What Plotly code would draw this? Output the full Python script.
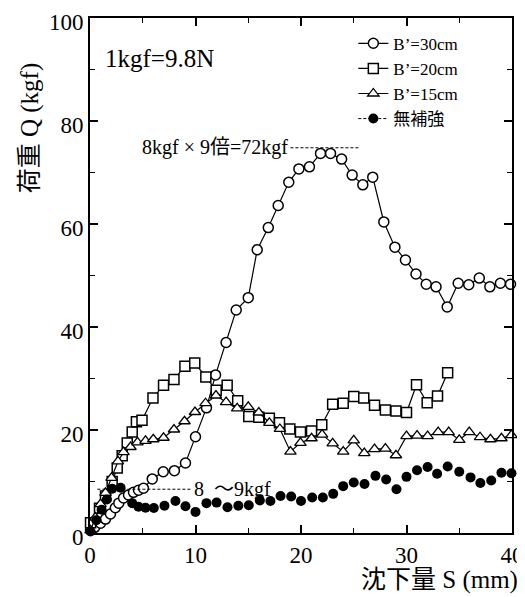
import plotly.graph_objects as go

# ---- data (S in mm, Q in kgf) ----
x30 = [0.05, 0.45, 1.0, 1.47, 1.94, 2.4, 2.73, 3.18, 3.65, 4.12, 4.6, 5.07, 5.9, 6.94, 8.0, 9.05,
       10.0, 11.04, 11.9, 12.9, 13.86, 15.0, 15.85, 16.9, 17.84, 18.84, 19.8, 20.8, 21.85, 22.8,
       23.85, 24.85, 25.86, 26.8, 27.85, 28.9, 29.9, 30.9, 31.87, 32.8, 33.86, 34.9, 35.9, 36.9,
       37.9, 38.9, 39.86]
y30 = [0.6, 1.1, 1.9, 2.7, 3.7, 4.9, 5.8, 6.8, 7.4, 7.9, 8.3, 8.7, 10.5, 11.9, 12.1, 13.6,
       18.7, 24.3, 30.7, 37.0, 43.3, 45.7, 55.0, 59.3, 63.6, 68.1, 70.7, 71.1, 73.7, 73.7,
       72.6, 69.5, 67.6, 69.1, 60.4, 55.5, 53.0, 50.3, 48.3, 47.8, 43.9, 48.5, 48.2, 49.5,
       47.8, 48.5, 48.3]

x20 = [0.05, 0.9, 1.47, 2.1, 2.58, 3.05, 3.53, 4.0, 4.4, 4.93, 5.97, 6.97, 7.96, 9.0, 9.93,
       10.98, 11.96, 13.0, 14.0, 15.05, 16.0, 17.0, 17.96, 18.94, 19.95, 21.0, 21.97, 23.0,
       24.0, 25.0, 25.95, 26.97, 28.0, 29.0, 30.0, 30.95, 31.96, 32.94, 33.9]
y20 = [2.0, 4.8, 7.2, 10.0, 12.6, 15.0, 17.5, 19.6, 21.6, 21.9, 26.2, 28.7, 29.8, 32.4, 33.0,
       30.3, 27.7, 28.7, 25.7, 22.6, 22.5, 22.3, 21.4, 20.2, 19.6, 19.8, 21.0, 25.0,
       25.2, 26.5, 26.2, 24.8, 23.9, 23.7, 23.4, 28.8, 25.3, 26.6, 31.1]

x15 = [0.05, 0.5, 1.0, 1.47, 2.04, 2.65, 3.18, 3.84, 4.5, 5.26, 6.0, 6.97, 7.96, 8.96, 9.95,
       10.95, 11.94, 12.9, 13.95, 15.0, 16.0, 17.0, 18.0, 19.0, 19.95, 21.0, 22.0, 23.0, 24.0,
       25.0, 26.0, 26.97, 28.0, 29.0, 30.0, 31.0, 32.0, 33.0, 34.0, 35.0, 35.95, 36.97, 37.96,
       39.0, 39.95]
y15 = [0.5, 3.0, 5.6, 7.8, 10.7, 13.9, 15.7, 16.7, 17.6, 17.9, 18.2, 18.5, 20.1, 21.7, 23.5,
       25.2, 26.7, 25.4, 24.2, 24.5, 23.4, 21.4, 20.2, 15.8, 17.5, 18.4, 19.1, 17.4, 15.8,
       18.0, 15.5, 16.3, 16.4, 15.1, 18.8, 18.9, 18.8, 19.6, 19.6, 18.1, 19.6, 18.6, 18.2,
       18.4, 19.0]

x0 = [0.05, 0.6, 1.1, 1.6, 2.1, 2.9, 4.0, 4.6, 5.26, 6.05, 7.06, 8.1, 9.05, 10.0, 11.04, 12.0,
      13.03, 14.06, 15.05, 16.1, 17.1, 18.06, 19.07, 20.0, 21.06, 22.07, 23.05, 24.0, 25.0,
      26.02, 27.06, 28.07, 29.05, 30.0, 31.0, 32.0, 32.9, 33.9, 35.0, 36.07, 37.0, 38.03,
      39.0, 39.95]
y0 = [0.3, 2.5, 4.5, 6.5, 8.6, 8.8, 5.8, 5.1, 4.9, 4.85, 5.3, 6.2, 5.2, 4.1, 5.8, 5.9,
      5.0, 5.3, 5.4, 6.3, 6.2, 7.2, 7.1, 6.2, 6.9, 6.9, 7.6, 9.1, 9.8,
      9.5, 11.1, 10.4, 8.5, 10.9, 12.2, 12.8, 11.5, 12.9, 11.9, 10.8, 9.7, 10.2,
      11.7, 11.6]

names = ["B’=30cm", "B’=20cm", "B’=15cm", "無補強"]

# reference lines for notes
peak_line_x = [19.0, 25.5]
peak_line_y = 74.8
base_line_x = [0.7, 9.7]
base_line_y = 8.5

FONT = "Liberation Serif, Times New Roman, Noto Sans CJK JP, serif"
DASH = "3px,2px"

fig = go.Figure()

common_line = dict(color="black", width=1.2)
fig.add_trace(go.Scatter(x=x30, y=y30, name=names[0], mode="lines+markers", line=common_line,
                         marker=dict(symbol="circle", size=10, color="white",
                                     line=dict(color="black", width=1.5)), cliponaxis=False))
fig.add_trace(go.Scatter(x=x20, y=y20, name=names[1], mode="lines+markers", line=common_line,
                         marker=dict(symbol="square", size=10, color="white",
                                     line=dict(color="black", width=1.5)), cliponaxis=False))
fig.add_trace(go.Scatter(x=x15, y=y15, name=names[2], mode="lines+markers", line=common_line,
                         marker=dict(symbol="triangle-up", size=10, color="white",
                                     line=dict(color="black", width=1.3)), cliponaxis=False))
fig.add_trace(go.Scatter(x=x0, y=y0, name=names[3], mode="markers", showlegend=False,
                         marker=dict(symbol="circle", size=10, color="black"), cliponaxis=False))
# legend entry for the unreinforced case (dashed line + dot)
fig.add_trace(go.Scatter(x=[None], y=[None], name=names[3], mode="lines+markers",
                         line=dict(color="black", width=1, dash=DASH),
                         marker=dict(symbol="circle", size=10, color="black")))

# dashed note lines
fig.add_trace(go.Scatter(x=peak_line_x, y=[peak_line_y, peak_line_y], mode="lines",
                         line=dict(color="black", width=1, dash=DASH), showlegend=False))
fig.add_trace(go.Scatter(x=base_line_x, y=[base_line_y, base_line_y], mode="lines",
                         line=dict(color="black", width=1, dash=DASH), showlegend=False))

axis_common = dict(showgrid=False, zeroline=False, showline=True, linecolor="black", linewidth=2,
                   mirror="ticks", ticks="inside", ticklen=8, tickwidth=1.5, tickcolor="black",
                   automargin=False, ticklabeloverflow="allow",
                   tickfont=dict(family=FONT, size=23, color="black"))
fig.update_xaxes(range=[0, 40], dtick=10, tick0=0,
                 minor=dict(dtick=5, ticks="inside", ticklen=5, tickcolor="black", tickwidth=1.2),
                 **axis_common)
fig.update_yaxes(range=[0, 100], dtick=20, tick0=0, ticklabelshift=4,
                 minor=dict(dtick=10, ticks="inside", ticklen=5, tickcolor="black", tickwidth=1.2),
                 **axis_common)

fig.add_annotation(x=1.2, y=92.2, xref="x", yref="y", text="1kgf=9.8N", showarrow=False,
                   xanchor="left", font=dict(family=FONT, size=25, color="black"))
fig.add_annotation(x=peak_line_x[0], y=peak_line_y, xref="x", yref="y", text="8kgf × 9倍=72kgf",
                   showarrow=False, xanchor="right", font=dict(family=FONT, size=20, color="black"))
fig.add_annotation(x=base_line_x[1], y=base_line_y, xref="x", yref="y", text="8\u2002～9kgf",
                   showarrow=False, xanchor="left", font=dict(family=FONT, size=20, color="black"))

# axis titles
fig.add_annotation(x=-0.142, y=0.786, xref="paper", yref="paper", text="荷重 Q (kgf)",
                   textangle=-90, showarrow=False, xanchor="center", yanchor="middle",
                   font=dict(family=FONT, size=25, color="black"))
fig.add_annotation(x=1.02, y=-0.091, xref="paper", yref="paper", text="沈下量 S (mm)",
                   showarrow=False, xanchor="right", yanchor="middle",
                   font=dict(family=FONT, size=25, color="black"))

# the page body adds an 8px offset, so the figure is sized/margined to compensate
fig.update_layout(
    width=517, height=589,
    margin=dict(l=82, r=13, t=10, b=64, autoexpand=False),
    paper_bgcolor="white", plot_bgcolor="white",
    showlegend=True,
    legend=dict(x=0.624, y=0.985, xanchor="left", yanchor="top", bgcolor="rgba(0,0,0,0)",
                font=dict(family=FONT, size=17, color="black"), tracegroupgap=0,
                itemwidth=30),
    font=dict(family=FONT, color="black"),
)

fig.write_html("out.html")
